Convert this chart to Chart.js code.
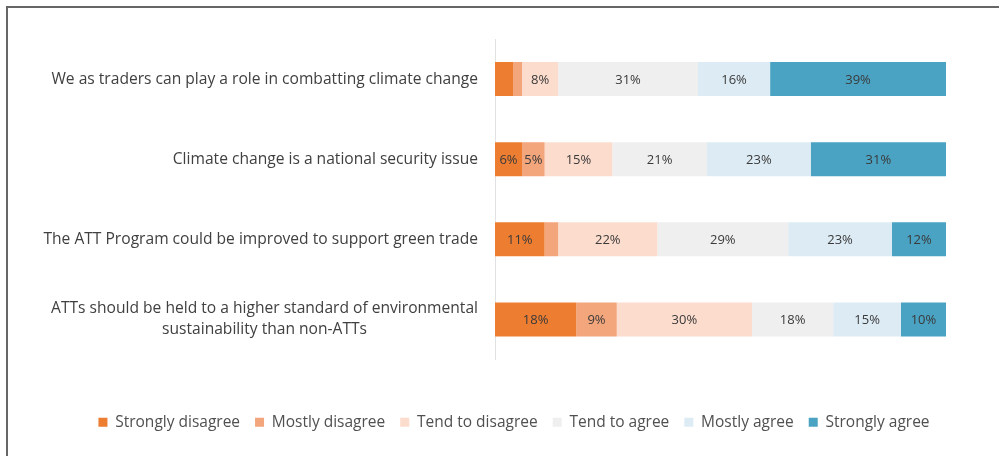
<!DOCTYPE html>
<html>
<head>
<meta charset="utf-8">
<script src="https://cdn.jsdelivr.net/npm/chart.js@4"></script>
<style>
  html, body { margin: 0; padding: 0; background: #fff; }
  #wrap { position: relative; width: 999px; height: 456px; overflow: hidden; }
  #frame { position: absolute; left: 6px; top: 6px; right: -10px; bottom: -10px; border-top: 2px solid #666; border-left: 2px solid #666; pointer-events: none; }
  canvas { position: absolute; left: 0; top: 0; }
</style>
</head>
<body>
<div id="wrap">
  <canvas id="c" width="999" height="456"></canvas>
  <div id="frame"></div>
</div>
<script>
const categories = [
  "We as traders can play a role in combatting climate change",
  "Climate change is a national security issue",
  "The ATT Program could be improved to support green trade",
  ["ATTs should be held to a higher standard of environmental", "sustainability than non-ATTs"]
];
const seriesNames = ["Strongly disagree", "Mostly disagree", "Tend to disagree", "Tend to agree", "Mostly agree", "Strongly agree"];
const stronglyDisagree = [4, 6, 11, 18];
const mostlyDisagree   = [2, 5, 3, 9];
const tendToDisagree   = [8, 15, 22, 30];
const tendToAgree      = [31, 21, 29, 18];
const mostlyAgree      = [16, 23, 23, 15];
const stronglyAgree    = [39, 31, 12, 10];
const seriesColors = ["#ED7D31", "#F3A57C", "#FBDCCD", "#EFEFEF", "#DDEBF4", "#4AA3C3"];
const xTicks = [0, 100];

const seriesValues = [stronglyDisagree, mostlyDisagree, tendToDisagree, tendToAgree, mostlyAgree, stronglyAgree];

const FONT = "'Open Sans', 'Noto Sans', sans-serif";

const labelPlugin = {
  id: 'labels',
  afterDatasetsDraw(chart) {
    const ctx = chart.ctx;
    ctx.save();
    ctx.font = "13px " + FONT;
    ctx.fillStyle = "#3A3A3A";
    ctx.textAlign = "center";
    ctx.textBaseline = "middle";
    chart.data.datasets.forEach((ds, di) => {
      const meta = chart.getDatasetMeta(di);
      meta.data.forEach((bar, i) => {
        const v = ds.data[i];
        if (v < 5) return;
        const left = Math.min(bar.x, bar.base);
        const right = Math.min(Math.max(bar.x, bar.base), chart.chartArea.right);
        ctx.fillText(v + "%", (left + right) / 2, bar.y + 1);
      });
    });
    // category labels
    const ys = chart.scales.y;
    ctx.font = "15.6px " + FONT;
    ctx.fillStyle = "#404040";
    const rightEdge = chart.chartArea.left - 17;
    categories.forEach((lab, i) => {
      const lines = Array.isArray(lab) ? lab : [lab];
      const w = Math.max(...lines.map(l => ctx.measureText(l).width));
      const cx = rightEdge - w / 2;
      const y = ys.getPixelForValue(i);
      const lh = 21;
      lines.forEach((l, k) => {
        ctx.fillText(l, cx, y + (k - (lines.length - 1) / 2) * lh);
      });
    });
    ctx.restore();
  }
};

new Chart(document.getElementById('c'), {
  type: 'bar',
  data: {
    labels: categories,
    datasets: seriesNames.map((n, k) => ({
      label: n,
      data: seriesValues[k],
      backgroundColor: seriesColors[k],
      borderWidth: 0,
      barPercentage: 0.85,
      categoryPercentage: 0.5
    }))
  },
  options: {
    indexAxis: 'y',
    responsive: false,
    animation: false,
    devicePixelRatio: 1,
    layout: { padding: { left: 82, right: 53, top: 39, bottom: 16 } },
    scales: {
      x: {
        stacked: true, min: xTicks[0], max: xTicks[1],
        grid: { display: false },
        border: { display: false },
        ticks: { display: false },
        afterFit(s) { s.height = 40; }
      },
      y: {
        stacked: true,
        grid: { display: false },
        border: { display: true, color: "#E2E2E2", width: 1 },
        ticks: { display: false },
        afterFit(s) { s.width = 413; }
      }
    },
    plugins: {
      legend: {
        position: 'bottom',
        labels: {
          boxWidth: 9, boxHeight: 9, padding: 15,
          color: "#505050",
          font: { family: FONT, size: 15.5 }
        }
      },
      tooltip: { enabled: false }
    }
  },
  plugins: [labelPlugin]
});
</script>
</body>
</html>
